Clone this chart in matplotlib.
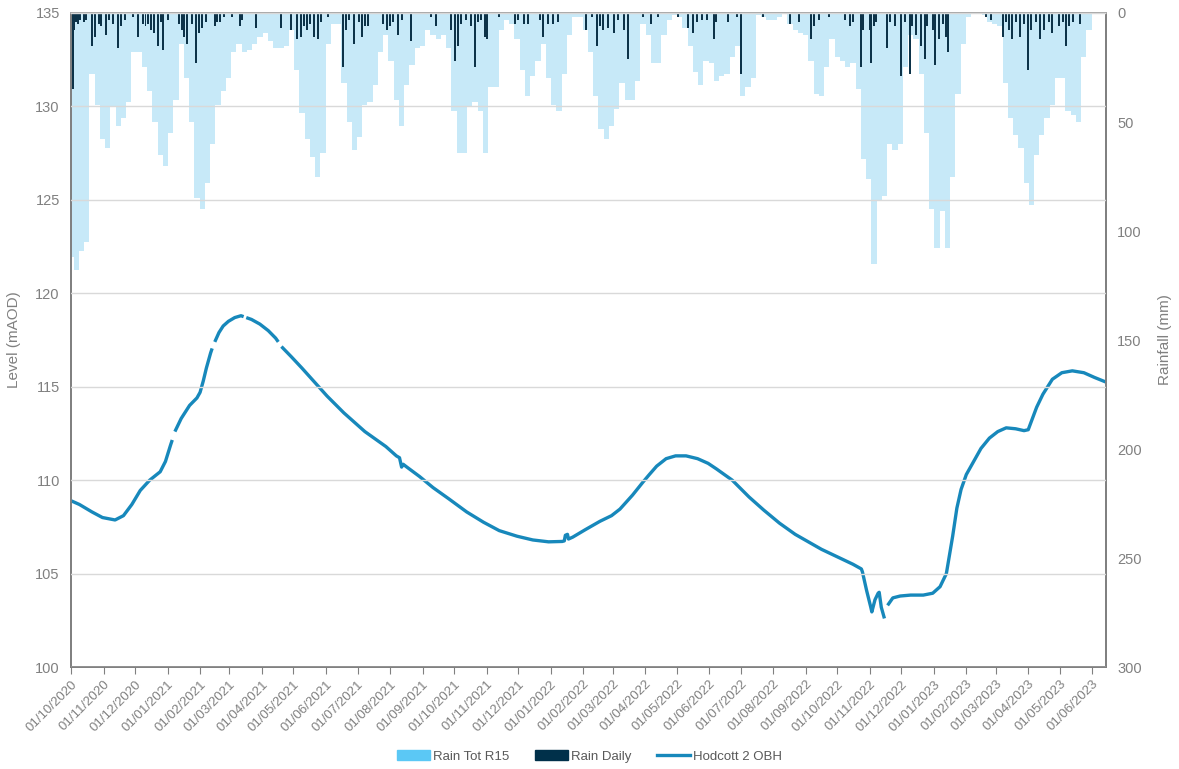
import numpy as np
import pandas as pd
import matplotlib
matplotlib.use("Agg")
import matplotlib.pyplot as plt
import matplotlib.dates as mdates
from matplotlib.patches import Patch
from matplotlib.lines import Line2D

plt.rcParams['font.family'] = ['Liberation Sans', 'DejaVu Sans']

START = pd.Timestamp("2020-10-01")

# groundwater level, Hodcott 2 OBH (day offset from 01/10/2020, mAOD); NaN = gap in record
level_day = [0, 8, 20, 30, 42, 50, 58, 66, 75, 85, 90, 95, 96.5, 97.5, 99, 105, 113, 120, 123,
             126, 129, 133, 134.5, 135.5, 137, 141, 145, 150, 156, 162, 164.5, 166, 167, 172,
             180, 188, 195, 197.5, 199, 200.5, 210, 220, 228, 236, 244, 252, 260, 270, 280,
             290, 300, 310, 313, 315, 316.5, 320, 332, 345, 360, 377, 393, 408, 425, 440, 455,
             468, 470, 471, 473, 474, 478, 490, 504, 515, 523, 535, 545, 551, 558, 567, 576,
             586, 597, 607, 615, 630, 646, 660, 675, 690, 701, 715, 730, 745, 753, 754, 758,
             762, 763, 766, 769, 770, 772, 775, 776, 778, 783, 790, 800, 812, 821, 828, 834,
             837, 840, 844, 848, 853, 859, 867, 875, 883, 891, 900, 908, 912, 916, 920, 926,
             935, 944, 954, 965, 975, 986]
level_m = [108.9, 108.7, 108.3, 108.0, 107.87, 108.1, 108.7, 109.45, 110.0, 110.45, 111.0,
           111.9, 112.15, np.nan, 112.6, 113.3, 114.0, 114.4, 114.7, 115.3, 116.0, 116.8,
           117.05, np.nan, 117.4, 117.9, 118.25, 118.5, 118.7, 118.8, 118.75, np.nan, 118.7,
           118.6, 118.35, 118.0, 117.6, 117.4, np.nan, 117.15, 116.6, 116.0, 115.5, 115.0,
           114.5, 114.05, 113.6, 113.1, 112.6, 112.2, 111.8, 111.3, 111.2, 110.7, 110.85,
           110.7, 110.2, 109.6, 109.0, 108.3, 107.75, 107.3, 107.0, 106.8, 106.7, 106.72,
           106.75, 107.05, 107.1, 106.85, 106.95, 107.35, 107.8, 108.1, 108.45, 109.2, 109.9,
           110.3, 110.75, 111.15, 111.3, 111.3, 111.15, 110.9, 110.6, 110.0, 109.1, 108.4,
           107.7, 107.1, 106.75, 106.3, 105.9, 105.5, 105.25, 105.1, 104.1, 103.2, 102.95,
           103.6, 103.95, 104.0, 103.2, 102.6, np.nan, 103.3, 103.7, 103.8, 103.85, 103.85,
           103.95, 104.3, 105.0, 106.0, 107.0, 108.5, 109.5, 110.3, 110.9, 111.7, 112.25,
           112.6, 112.8, 112.75, 112.65, 112.7, 113.3, 113.9, 114.6, 115.4, 115.75, 115.85,
           115.75, 115.5, 115.25]

# rolling 15 day rainfall total (mm), one value every 5 days from 01/10/2020
r15_mm = [112, 118, 109, 105, 28, 42, 58, 62, 43, 52,
          48, 41, 18, 18, 25, 36, 50, 65, 70, 55,
          40, 14, 30, 50, 85, 90, 78, 60, 42, 36,
          30, 18, 14, 18, 17, 14, 11, 9, 13, 16,
          16, 15, 8, 26, 46, 58, 66, 75, 64, 14,
          5, 5, 32, 50, 63, 57, 42, 41, 33, 18,
          10, 22, 40, 52, 33, 24, 16, 15, 8, 10,
          12, 10, 16, 45, 64, 64, 43, 41, 45, 64,
          34, 34, 8, 3, 5, 12, 26, 38, 29, 22,
          14, 30, 42, 45, 28, 10, 2, 2, 8, 18,
          38, 53, 58, 52, 44, 32, 40, 40, 31, 5,
          10, 23, 23, 10, 3, 1, 2, 7, 15, 27,
          33, 22, 23, 31, 29, 28, 20, 15, 38, 34,
          30, 1, 2, 3, 3, 2, 0.5, 5, 8, 9,
          10, 22, 37, 38, 25, 12, 20, 22, 25, 23,
          35, 67, 76, 115, 86, 84, 60, 63, 60, 25,
          10, 12, 28, 55, 90, 108, 91, 108, 75, 37,
          14, 2, 0.5, 0.5, 1, 4, 5, 6, 32, 48,
          56, 62, 78, 88, 65, 56, 48, 42, 30, 30,
          45, 47, 50, 20, 8]

# daily rainfall (mm) on wet days, day offset from 01/10/2020
daily_day = [1, 2, 3, 5, 7, 9, 12, 14, 20, 23, 27, 29, 33, 36, 40, 45, 48, 51, 59, 64, 69, 71,
             73, 76, 79, 83, 86, 88, 92, 103, 106, 108, 111, 115, 119, 122, 125, 129, 137, 139,
             142, 146, 153, 161, 163, 176, 200, 210, 215, 219, 222, 225, 228, 232, 235, 238,
             245, 259, 262, 265, 270, 274, 277, 280, 283, 297, 301, 304, 307, 312, 315, 324,
             343, 348, 362, 366, 369, 372, 376, 381, 385, 388, 391, 394, 396, 408, 423, 426,
             432, 435, 447, 450, 454, 459, 464, 491, 496, 501, 504, 507, 512, 517, 521, 527,
             531, 545, 553, 559, 578, 588, 593, 596, 601, 606, 613, 615, 626, 635, 638, 659,
             685, 694, 705, 708, 713, 722, 737, 742, 745, 753, 755, 761, 762, 765, 767, 777,
             780, 785, 791, 795, 799, 801, 805, 810, 814, 816, 821, 823, 827, 831, 834, 836,
             872, 877, 888, 891, 894, 897, 900, 904, 908, 912, 915, 919, 923, 927, 932, 935,
             941, 945, 948, 951, 955, 961]
daily_mm = [23, 35, 8, 4, 5, 3, 4, 3, 15, 11, 5, 6, 10, 3, 5, 16, 6, 3, 2, 11, 5, 6,
            5, 8, 9, 15, 4, 17, 3, 5, 8, 11, 14, 5, 23, 9, 7, 4, 6, 4,
            4, 2, 2, 6, 3, 7, 7, 8, 12, 11, 6, 8, 5, 11, 12, 4,
            2, 25, 8, 3, 14, 4, 11, 6, 6, 5, 8, 6, 4, 10, 3, 13,
            2, 6, 8, 22, 15, 5, 3, 6, 25, 4, 3, 11, 12, 2, 5, 3,
            5, 5, 3, 11, 5, 5, 4, 8, 2, 15, 6, 8, 7, 9, 3, 8,
            21, 2, 5, 2, 2, 7, 9, 4, 3, 3, 12, 4, 4, 2, 28, 2,
            5, 4, 12, 6, 3, 2, 3, 6, 4, 25, 8, 8, 23, 6, 4, 16,
            4, 6, 29, 4, 28, 6, 10, 15, 21, 6, 8, 24, 12, 5, 11, 18,
            2, 3, 11, 4, 8, 12, 4, 11, 5, 26, 8, 4, 12, 8, 4, 9,
            6, 4, 15, 6, 4, 5]

month_ticks = pd.date_range("2020-10-01", "2023-06-01", freq="MS")
END_DAY = 986

level_dates = START + pd.to_timedelta(level_day, unit="D")
r15_dates = pd.date_range(START, periods=len(r15_mm), freq="5D")
daily_dates = START + pd.to_timedelta(daily_day, unit="D")

GREY = "#808080"
fig = plt.figure(figsize=(11.79, 7.69), dpi=100)
ax = fig.add_axes([0.0602, 0.1326, 0.8778, 0.8505])
ax2 = ax.twinx()

# rainfall on inverted right axis
ax2.bar(r15_dates, r15_mm, width=5.0, color="#c7e9f8", linewidth=0, align="center")
ax2.bar(daily_dates, daily_mm, width=1.9, color="#0d3349", linewidth=0, align="center")
ax2.set_ylim(300, 0)
ax2.set_yticks(np.arange(0, 301, 50))
ax2.set_ylabel("Rainfall (mm)", color=GREY, fontsize=11, labelpad=12)

# level line in front of the bars
ax.set_zorder(ax2.get_zorder() + 1)
ax.patch.set_visible(False)
ax.plot(level_dates, level_m, color="#1788bb", lw=2.4, solid_capstyle="butt")
ax.set_ylim(100, 135)
ax.set_yticks(np.arange(100, 136, 5))
ax.set_ylabel("Level (mAOD)", color=GREY, fontsize=11, labelpad=10)
ax.yaxis.grid(True, color="#d9d9d9", lw=1)
ax.set_axisbelow(False)

ax.set_xlim(START, START + pd.Timedelta(days=END_DAY))
ax.set_xticks(month_ticks)
ax.xaxis.set_major_formatter(mdates.DateFormatter("%d/%m/%Y"))
for lab in ax.get_xticklabels():
    lab.set_rotation(45)
    lab.set_ha("right")
    lab.set_rotation_mode("anchor")

for a in (ax, ax2):
    for s in a.spines.values():
        s.set_color(GREY)
        s.set_linewidth(1.3)
    a.tick_params(axis="y", length=0, colors=GREY, labelsize=10.5, pad=8)
ax.tick_params(axis="x", length=5, color=GREY, labelcolor=GREY, labelsize=9.5, pad=3)
ax.spines["top"].set_color("#b0b0b0")

handles = [Patch(color="#5bc8f5"), Patch(color="#00304a"),
           Line2D([], [], color="#1788bb", lw=2.4)]
fig.legend(handles, ["Rain Tot R15", "Rain Daily", "Hodcott 2 OBH"], loc="center",
           bbox_to_anchor=(0.5, 0.016), ncol=3, frameon=False, fontsize=9.5,
           handlelength=2.5, handleheight=0.8, handletextpad=0.25, columnspacing=1.9,
           labelcolor="#595959")

fig.savefig("out.png", dpi=100)
